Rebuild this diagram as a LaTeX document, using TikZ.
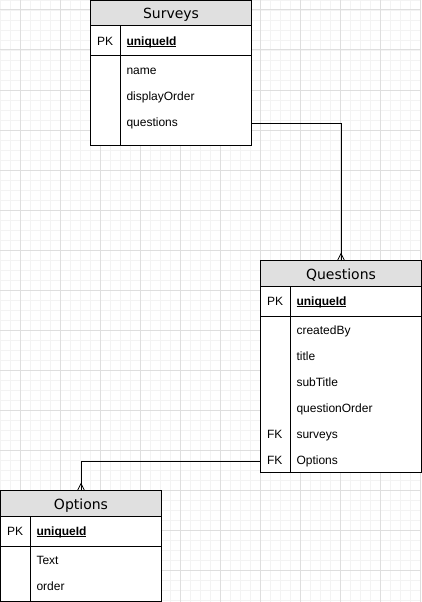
\documentclass[tikz,border=0pt]{standalone}
\usepackage{fontspec}
\setmainfont{Liberation Sans}
\newfontfamily\headfont{DejaVu Sans}
\usepackage{tikz}
\usetikzlibrary{calc,positioning}
\usepackage{xcolor}
\definecolor{gridminor}{HTML}{F3F3F3}
\definecolor{gridmajor}{HTML}{DEDEDE}
\definecolor{headgray}{HTML}{E0E0E0}

% underline that sits close to the baseline
\newcommand\keyline[1]{\setbox0\hbox{#1}\rlap{\rule[-1.6pt]{\wd0}{0.9pt}}\box0}

\tikzset{
  tbl/.style={anchor=north west, inner sep=0pt, minimum width=160pt},
  tblhead/.style={anchor=base, inner sep=0pt, font=\headfont\fontsize{14}{16}\selectfont},
  keycol/.style={anchor=base west, inner sep=0pt, font=\fontsize{12}{14}\selectfont},
  field/.style={anchor=base west, inner sep=0pt, font=\fontsize{12}{14}\selectfont},
  pkfield/.style={field, font=\fontsize{12}{14}\selectfont\bfseries},
  rel/.style={line width=1pt},
  crow/.style={line width=0.8pt},
}

\begin{document}
\begin{tikzpicture}[x=1pt, y=-1pt, line width=1pt]

% Canvas and grid
\fill[white] (0,0) rectangle (421,602);
\useasboundingbox (0,0) rectangle (421,602);
\foreach \x in {0,10,...,420} {
    \draw[gridminor, line width=0.8pt] (\x,0) -- (\x,602);
}
\foreach \y in {0,10,...,600} {
    \draw[gridminor, line width=0.8pt] (0,\y) -- (421,\y);
}
\foreach \x in {20,60,...,420} {
    \draw[gridmajor] (\x,0) -- (\x,602);
}
\foreach \y in {10,50,...,600} {
    \draw[gridmajor] (0,\y) -- (421,\y);
}

% Table: Surveys
\node[tbl, minimum height=144pt] (surveys) at (90.5,0.5) {};
\fill[white] (surveys.north west) rectangle (surveys.south east);
\fill[headgray] (surveys.north west) rectangle ($(surveys.north east)+(0,25.5)$);
\draw ($(surveys.north west)+(0,25.5)$) -- ++(160,0);
\draw ($(surveys.north west)+(0,55.5)$) -- ++(160,0);
\draw ($(surveys.north west)+(30,25.5)$) -- ($(surveys.south west)+(30,0)$);
\draw (surveys.north west) rectangle (surveys.south east);
\node[tblhead] (surveys-title) at ($(surveys.north)+(0,18.5)$) {Surveys};
\node[keycol] (surveys-pk) at ($(surveys.north west)+(6,45)$) {PK};
\node[pkfield] (surveys-id) at ($(surveys.north west)+(35.5,45)$) {\keyline{uniqueId}};
\foreach \f [count=\i] in {name,displayOrder,questions} {
    \node[field] (surveys-\i) at ($(surveys.north west)+(35.5,48+26*\i)$) {\f};
}

% Table: Questions
\node[tbl, minimum height=211pt] (questions) at (260.5,260.5) {};
\fill[white] (questions.north west) rectangle (questions.south east);
\fill[headgray] (questions.north west) rectangle ($(questions.north east)+(0,25.5)$);
\draw ($(questions.north west)+(0,25.5)$) -- ++(160,0);
\draw ($(questions.north west)+(0,55.5)$) -- ++(160,0);
\draw ($(questions.north west)+(30,25.5)$) -- ($(questions.south west)+(30,0)$);
\draw (questions.north west) rectangle (questions.south east);
\node[tblhead] (questions-title) at ($(questions.north)+(0,18.5)$) {Questions};
\node[keycol] (questions-pk) at ($(questions.north west)+(6,45)$) {PK};
\node[pkfield] (questions-id) at ($(questions.north west)+(35.5,45)$) {\keyline{uniqueId}};
\foreach \f [count=\i] in {createdBy,title,subTitle,questionOrder,surveys,Options} {
    \node[field] (questions-\i) at ($(questions.north west)+(35.5,48+26*\i)$) {\f};
}
\node[keycol] (questions-fk1) at ($(questions.north west)+(6,178)$) {FK};
\node[keycol] (questions-fk2) at ($(questions.north west)+(6,204)$) {FK};

% Table: Options
\node[tbl, minimum height=110pt] (options) at (0.5,490.5) {};
\fill[white] (options.north west) rectangle (options.south east);
\fill[headgray] (options.north west) rectangle ($(options.north east)+(0,25.5)$);
\draw ($(options.north west)+(0,25.5)$) -- ++(160,0);
\draw ($(options.north west)+(0,55.5)$) -- ++(160,0);
\draw ($(options.north west)+(30,25.5)$) -- ($(options.south west)+(30,0)$);
\draw (options.north west) rectangle (options.south east);
\node[tblhead] (options-title) at ($(options.north)+(0,18.5)$) {Options};
\node[keycol] (options-pk) at ($(options.north west)+(6,45)$) {PK};
\node[pkfield] (options-id) at ($(options.north west)+(35.5,45)$) {\keyline{uniqueId}};
\foreach \f [count=\i] in {Text,order} {
    \node[field] (options-\i) at ($(options.north west)+(35.5,48+26*\i)$) {\f};
}

% Relations (one to many)
\draw[rel] (surveys.east |- surveys-3) -| (questions.north);
\draw[crow] ($(questions.north)+(0,-7)$) -- ($(questions.north)+(-3.5,0)$);
\draw[crow] ($(questions.north)+(0,-7)$) -- ($(questions.north)+(3.5,0)$);

\draw[rel] (questions.west |- questions-6) -| (options.north);
\draw[crow] ($(options.north)+(0,-7)$) -- ($(options.north)+(-3.5,0)$);
\draw[crow] ($(options.north)+(0,-7)$) -- ($(options.north)+(3.5,0)$);

\end{tikzpicture}
\end{document}
